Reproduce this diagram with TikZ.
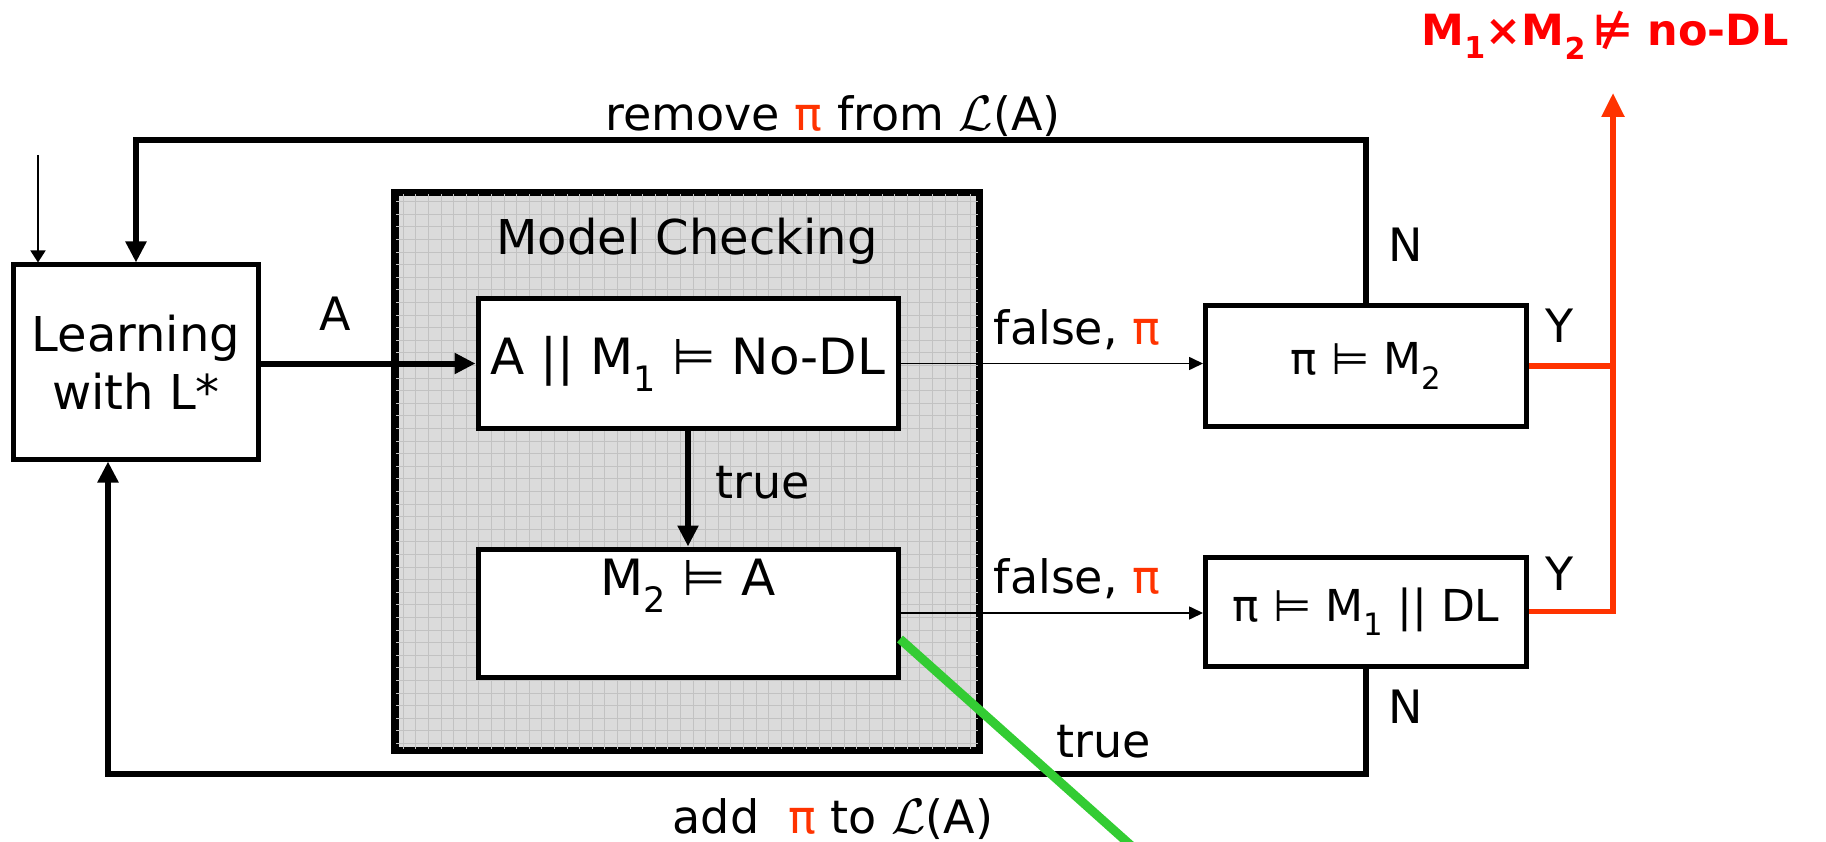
\documentclass[tikz,border=0pt]{standalone}
\usepackage{fontspec}
\setmainfont{DejaVu Sans}
\usetikzlibrary{arrows.meta}
\definecolor{piorange}{HTML}{FF3300}
\definecolor{titlered}{HTML}{FF0000}
\definecolor{glime}{HTML}{33CC33}
\newcommand{\calL}{\resizebox{!}{34pt}{$\mathcal{L}$}}
\begin{document}
\begin{tikzpicture}[x=1pt,y=-1pt,
  box/.style={draw=black, line width=5pt, fill=white, inner sep=0pt},
  lbl/.style={font=\fontsize{46}{55}\selectfont, inner sep=0pt},
  thickarrow/.style={draw, line width=6pt, -{Triangle[length=21pt,width=20pt]}},
  thinarrow/.style={draw, line width=1.6pt, -{Triangle[length=14pt,width=13pt]}},
  redpath/.style={draw=piorange, line width=5.5pt},
]
\useasboundingbox (0,0) rectangle (1826,842);

% Model checking frame
\node[draw, line width=5pt, fill=black!14, minimum width=582pt, minimum height=555pt, inner sep=0pt] (mc) at (687,471.5) {};
\begin{scope}
  \clip (mc.south west) rectangle (mc.north east);
  \draw[black!24, line width=0.7pt, step=12.6pt] (mc.south west) grid (mc.north east);
\end{scope}
\draw[line width=5pt] (mc.south west) rectangle (mc.north east);
\node[lbl, font=\fontsize{48}{56}\selectfont] (mctitle) at (687,241) {Model Checking};

% boxes
\node[box, minimum width=245pt, minimum height=194pt, align=center, font=\fontsize{48}{58}\selectfont] (learn) at (136,362) {Learning\\with L*};
\node[box, minimum width=420pt, minimum height=129pt, font=\fontsize{50}{58}\selectfont] (b1) at (688,363.5) {A || M\textsubscript{1} ⊨ No-DL};
\node[box, minimum width=420pt, minimum height=128pt] (b2) at (688,613) {};
\node[lbl, font=\fontsize{50}{58}\selectfont] (b2txt) at (688,586) {M\textsubscript{2} ⊨ A};
\node[box, minimum width=321pt, minimum height=120pt, font=\fontsize{44}{52}\selectfont] (b3) at (1366,366) {π ⊨ M\textsubscript{2}};
\node[box, minimum width=321pt, minimum height=109pt, font=\fontsize{44}{52}\selectfont] (b4) at (1366,611.5) {π ⊨ M\textsubscript{1} || DL};

% coordinates
\coordinate (inp) at (38,155);
\coordinate (topy) at (0,140);
\coordinate (boty) at (0,774);
\coordinate (botx) at (108,0);
\coordinate (redtop) at (1613,93);
\coordinate (g1) at (900,639);
\coordinate (g2) at (1136,850);

% connectors
\draw[line width=1.6pt, -{Triangle[length=12pt,width=15pt]}] (inp) -- (inp |- learn.north);
\draw[thickarrow] (learn.east |- b1.west) -- (b1.west);
\draw[thickarrow] (b1.south) -- (b2.north);
\draw[thinarrow] (b1.east) -- (b1.east -| b3.west);
\draw[thinarrow] (b2.east) -- (b2.east -| b4.west);
\draw[thickarrow] (b3.north) -- (b3.north |- topy) -| (learn.north);
\draw[thickarrow] (b4.south) -- (b4.south |- boty) -| (learn.south -| botx);
\draw[redpath] (b3.east) -- (b3.east -| redtop);
\draw[redpath, -{Triangle[length=24pt,width=22pt]}] (b4.east) -| (redtop);
\draw[glime, line width=9pt] (g1) -- (g2);

% labels
\node[lbl] (la) at (335,314) {A};
\node[lbl] (ltrue1) at (763,483) {true};
\node[lbl] (lf1) at (1077,330) {false, \textcolor{piorange}{π}};
\node[lbl] (lf2) at (1077,579) {false, \textcolor{piorange}{π}};
\node[lbl] (ln1) at (1406,245) {N};
\node[lbl] (ly1) at (1560,326) {Y};
\node[lbl] (ly2) at (1560,574) {Y};
\node[lbl] (ln2) at (1406,707) {N};
\node[lbl] (ltrue2) at (1104,742) {true};
\node[lbl] (lrem) at (833,116) {remove \textcolor{piorange}{π} from \calL(A)};
\node[lbl] (ladd) at (833,819) {add \ \textcolor{piorange}{π} to \calL(A)};
\node[font=\fontsize{43}{50}\selectfont\bfseries, text=titlered, inner sep=0pt] (title) at (1605,35) {M\textsubscript{1}×M\textsubscript{2}\,⊭ no-DL};
\end{tikzpicture}
\end{document}
